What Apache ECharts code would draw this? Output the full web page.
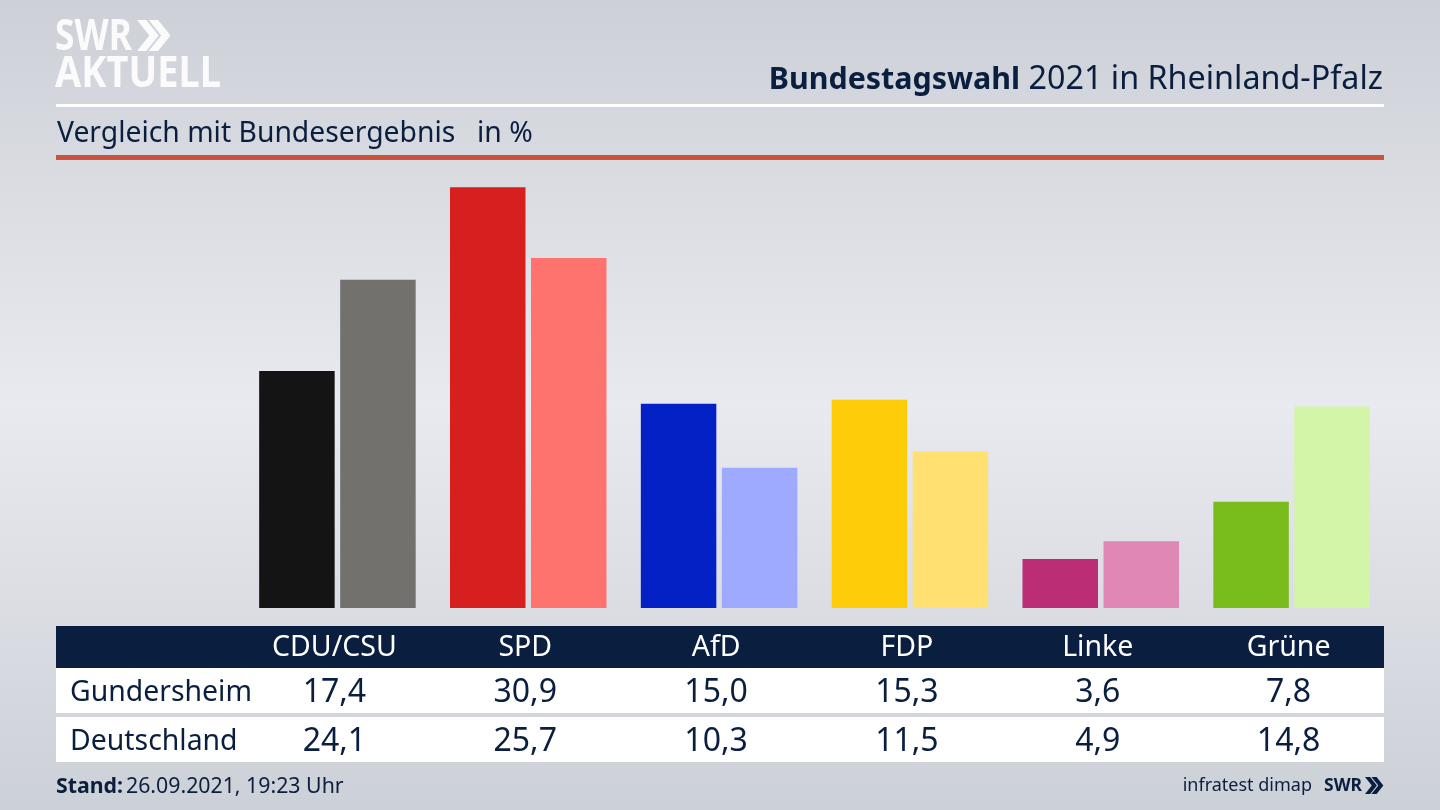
<!DOCTYPE html>
<html lang="de">
<head>
    <meta charset="UTF-8">
    <title>Bundestagswahl 2021 in Rheinland-Pfalz</title>
    <script src="https://cdn.jsdelivr.net/npm/echarts@6/dist/echarts.min.js"></script>
    <style>
        html, body { margin: 0; padding: 0; }
        #chart { width: 1440px; height: 810px; }
    </style>
</head>
<body>
<div id="chart"></div>
<script type="text/javascript">
    var parties = ['CDU/CSU', 'SPD', 'AfD', 'FDP', 'Linke', 'Grüne'];
    var gundersheim = [17.4, 30.9, 15.0, 15.3, 3.6, 7.8];
    var deutschland = [24.1, 25.7, 10.3, 11.5, 4.9, 14.8];
    var colorsLocal = ['#141414', '#d81f1f', '#0321c4', '#ffcc0a', '#bb2d75', '#79bd1c'];
    var colorsFederal = ['#72716e', '#ff736e', '#9eaaff', '#ffe070', '#df88b6', '#d2f5a8'];

    var navy = '#0a1f3f';
    var font = '"Noto Sans"';

    function fmt(v) {
        return v.toFixed(1).replace('.', ',');
    }

    function colored(values, colors) {
        return values.map(function (v, i) {
            return { value: v, itemStyle: { color: colors[i] } };
        });
    }

    // the table columns are extra category axes, so they line up with the bars
    function labelAxis(data, margin, color, size) {
        return {
            type: 'category',
            gridIndex: 1,
            position: 'bottom',
            data: data,
            axisLine: { show: false, onZero: false },
            axisTick: { show: false },
            axisLabel: {
                interval: 0,
                margin: margin,
                color: color,
                fontFamily: font,
                fontSize: size,
                verticalAlign: 'middle'
            }
        };
    }

    function rect(x, y, w, h, fill) {
        return { type: 'rect', z: -1, shape: { x: x, y: y, width: w, height: h }, style: { fill: fill } };
    }

    function text(x, y, str, size, weight, color, align) {
        return {
            type: 'text', x: x, y: y,
            style: {
                text: str, fontFamily: font, fontSize: size, fontWeight: weight, fill: color,
                align: align || 'left', verticalAlign: 'middle'
            }
        };
    }

    // logo lettering is narrower and taller than the installed fonts
    function logoText(x, y, str, size, color, sx, sy) {
        var t = text(x, y, str, size, 700, color);
        t.scaleX = sx;
        t.scaleY = sy;
        return t;
    }

    function chevrons(x, y, h, fill) {
        var w = h * 0.4, t = h * 0.3;
        return [0, 1].map(function (k) {
            var x0 = x + k * (t + h * 0.08);
            return {
                type: 'polygon', z: 5,
                shape: { points: [[x0, y], [x0 + t, y], [x0 + t + w, y + h / 2], [x0 + t, y + h], [x0, y + h], [x0 + w, y + h / 2]] },
                style: { fill: fill }
            };
        });
    }

    var chart = echarts.init(document.getElementById('chart'));

    var option = {
        animation: false,
        backgroundColor: {
            type: 'linear', x: 0, y: 0, x2: 0, y2: 1,
            colorStops: [
                { offset: 0, color: '#cdd0d7' },
                { offset: 0.5, color: '#e9eaef' },
                { offset: 1, color: '#ccd0d7' }
            ]
        },
        // bars sit 3px right of the table columns in the original
        grid: [
            { left: 242, right: 53, top: 160, bottom: 202 },
            { left: 239, right: 56, top: 160, bottom: 202 }
        ],
        xAxis: [
            {
                type: 'category', gridIndex: 0, data: parties,
                axisLine: { show: false }, axisTick: { show: false }, axisLabel: { show: false }
            },
            labelAxis(parties, 40, '#ffffff', 28.5),
            labelAxis(gundersheim.map(fmt), 85, navy, 32),
            labelAxis(deutschland.map(fmt), 134, navy, 32)
        ],
        yAxis: [
            { type: 'value', gridIndex: 0, min: 0, max: 32.9, show: false },
            { type: 'value', gridIndex: 1, min: 0, max: 32.9, show: false }
        ],
        series: [
            {
                name: 'Gundersheim', type: 'bar', barWidth: 75.5, barGap: '7.3%',
                data: colored(gundersheim, colorsLocal)
            },
            {
                name: 'Deutschland', type: 'bar', barWidth: 75.5,
                data: colored(deutschland, colorsFederal)
            }
        ],
        graphic: [
            rect(56, 104, 1328, 3, '#ffffff'),
            rect(56, 155, 1328, 5, '#c9523c'),
            rect(56, 626, 1328, 42, navy),
            rect(56, 668, 1328, 45, '#ffffff'),
            rect(56, 717, 1328, 45, '#ffffff'),
            logoText(55, 38, 'SWR', 38, '#fbfbfc', 0.93, 1.15),
            logoText(55, 75, 'AKTUELL', 38, '#fbfbfc', 1, 1.15),
            text(1020, 80, 'Bundestagswahl', 30.4, 700, navy, 'right'),
            text(1383, 80, '2021 in Rheinland-Pfalz', 32.3, 400, navy, 'right'),
            text(57, 134, 'Vergleich mit Bundesergebnis', 28.3, 400, navy),
            text(477, 134, 'in %', 28.3, 400, navy),
            text(70, 693, 'Gundersheim', 28.4, 400, navy),
            text(70, 742, 'Deutschland', 28.4, 400, navy),
            text(56, 787, 'Stand:', 21.3, 700, navy),
            text(126, 787, '26.09.2021, 19:23 Uhr', 21.3, 400, navy),
            text(1312, 786, 'infratest dimap', 18, 400, navy, 'right'),
            text(1324, 786, 'SWR', 17.5, 700, navy)
        ].concat(chevrons(137, 20, 31, '#fbfbfc'), chevrons(1365, 777, 17, navy))
    };

    option && chart.setOption(option);
</script>
</body>
</html>
